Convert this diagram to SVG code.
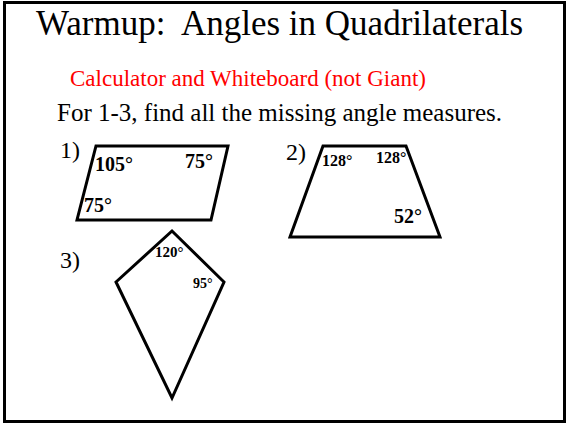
<svg xmlns="http://www.w3.org/2000/svg" width="566" height="424" viewBox="0 0 566 424">
<style>
.t{font-family:"Liberation Serif","Times New Roman",serif;fill:#000}
.b{font-family:"Liberation Serif","Times New Roman",serif;font-weight:bold;fill:#000}
.shape{fill:none;stroke:#000;stroke-width:3;stroke-linejoin:miter}
</style>
<rect x="4.5" y="2.5" width="560" height="419" fill="#fff" stroke="#000" stroke-width="3"/>
<text class="t" x="36" y="35" font-size="35" style="white-space:pre" xml:space="preserve">Warmup:  Angles in Quadrilaterals</text>
<text class="t" x="70" y="86" font-size="23" style="fill:#ff0000">Calculator and Whiteboard (not Giant)</text>
<text class="t" x="57" y="121" font-size="25">For 1-3, find all the missing angle measures.</text>
<g id="q1">
<text class="t" x="60" y="158" font-size="24">1)</text>
<polygon class="shape" points="96,146 228,146 211,220 77,220"/>
<text class="b" x="95" y="171" font-size="20">105°</text>
<text class="b" x="185" y="168" font-size="20">75°</text>
<text class="b" x="84" y="212" font-size="20">75°</text>
</g>
<g id="q2">
<text class="t" x="286" y="160" font-size="24">2)</text>
<polygon class="shape" points="323,146 406,146 440,237 290,237"/>
<text class="b" x="322" y="166" font-size="16">128°</text>
<text class="b" x="376" y="163" font-size="16">128°</text>
<text class="b" x="394" y="223" font-size="20">52°</text>
</g>
<g id="q3">
<text class="t" x="60" y="268" font-size="24">3)</text>
<polygon class="shape" points="172,231 224,282 172,398 116,282"/>
<text class="b" x="155" y="257" font-size="15">120°</text>
<text class="b" x="193" y="288" font-size="14">95°</text>
</g>
</svg>
